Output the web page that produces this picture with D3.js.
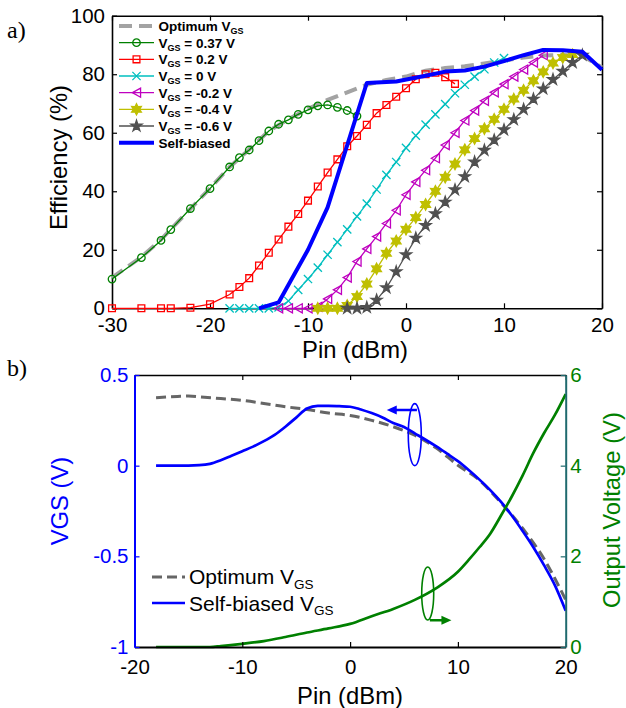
<!DOCTYPE html>
<html><head><meta charset="utf-8">
<script src="https://cdn.jsdelivr.net/npm/d3@7"></script>
<style>body{margin:0;background:#fff;} svg{display:block;}</style>
</head><body>
<script>
// ---------------- DATA (top panel: efficiency vs Pin) ----------------
const xTicksTop = [-30, -20, -10, 0, 10, 20];
const yTicksTop = [0, 20, 40, 60, 80, 100];

const pinOpt = [-30,-27,-25,-24,-22,-20,-18,-16,-14,-12,-10,-8,-6,-4,-2,0,2,4,6,8,10,12,14,16,18,20];
const effOpt = [10.5,17.5,23.5,27,34,41,48.3,54.3,60.6,64.6,68.2,71.2,73.8,76.4,78,79.2,81.2,82.1,82.7,83.7,84.7,85.7,86.4,86.6,86.3,82.3];

const pin037 = [-30,-27,-25,-24,-22,-20,-18,-17,-16,-15,-14,-13,-12,-11,-10,-9,-8,-7,-6,-5];
const eff037 = [10.0,17.3,23.2,26.9,34.1,40.9,48.3,51.5,54.1,57.3,60.6,62.9,64.4,66.3,67.8,69.2,69.5,68.7,67.6,65.7];

const pin02 = [-30,-27,-25,-24,-22,-20,-18,-17,-16,-15,-14,-13,-12,-11,-10,-9,-8,-7,-6,-5,-4,-3,-2,-1,0,1,2,3,4,5];
const eff02 = [0,0,0,0,0.2,1.4,4.7,7.3,10.3,14.6,19.0,23.5,27.9,32.2,36.8,41.6,46.4,50.9,55.4,58.9,62.7,66.7,69.5,72.3,75.2,78.3,80.0,80.5,79.0,76.7];

const pin0 = [-18,-17,-16,-15,-14,-13,-12,-11,-10,-9,-8,-7,-6,-5,-4,-3,-2,-1,0,1,2,3,4,5,6,7,8,9,10];
const eff0 = [0,0,0,0,0,0.3,2.5,6.3,10,13.9,18.3,22.6,27,31.4,35.8,40.6,45.6,50,54.8,59,62.8,66.3,69.8,73.5,76.4,79.2,81.7,84,85.5];

const pinM02 = [-13,-12,-11,-10,-9,-8,-7,-6,-5,-4,-3,-2,-1,0,1,2,3,4,5,6,7,8,9,10,11,12,13,14];
const effM02 = [0,0,0,0,0.5,3.2,6.3,10.5,16,20.3,24.5,29,33.5,38.8,43.2,47.2,51.3,55.8,60,64.2,67.6,70.9,73.8,76.6,79.2,81.6,84,86.5];

const pinM04 = [-9,-8,-7,-6,-5,-4,-3,-2,-1,0,1,2,3,4,5,6,7,8,9,10,11,12,13,14,15,16,17];
const effM04 = [0,0,0,1,4,8.3,13.5,18.8,23,27,31,35.5,40,44.8,49.3,54.2,58,61.4,64.6,68,71.5,74.5,77.8,80.8,83.8,85.7,86.7];

const pinM06 = [-6,-5,-4,-3,-2,-1,0,1,2,3,4,5,6,7,8,9,10,11,12,13,14,15,16,17,18];
const effM06 = [0,0,0.3,2.8,7,12.5,18.3,24,28.3,32.3,36.3,40.5,45,50,54,57.5,61,64.5,68,71.5,75,78.2,81,84,86.5];

const pinSB = [-15,-13,-10,-8,-4,-1,2,4,6,8,10,12,14,16,18,20];
const effSB = [0,2,20,34.5,77,77.5,79.5,80.9,81.3,82.6,84.5,86.5,88.3,88.2,87.7,81.5];

const legendTop = [
  ["Optimum V", "GS", ""],
  ["V", "GS", " = 0.37 V"],
  ["V", "GS", " = 0.2 V"],
  ["V", "GS", " = 0 V"],
  ["V", "GS", " = -0.2 V"],
  ["V", "GS", " = -0.4 V"],
  ["V", "GS", " = -0.6 V"],
  ["Self-biased", "", ""]
];

// ---------------- DATA (bottom panel: VGS & output voltage vs Pin) ----------------
const xTicksBot = [-20, -10, 0, 10, 20];
const yTicksBotL = [-1, -0.5, 0, 0.5];
const yTicksBotR = [0, 2, 4, 6];

const pinB = [-18,-16,-14,-13,-12,-11,-10,-9,-8,-7,-6,-5,-4,-3,-2,-1,0,1,2,3,4,5,6,7,8,9,10,11,12,13,14,15,16,17,18,19,20];
const vgsSelf = [0,0,0.003,0.01,0.03,0.055,0.08,0.105,0.135,0.17,0.215,0.265,0.315,0.33,0.33,0.328,0.325,0.31,0.29,0.266,0.235,0.213,0.178,0.143,0.106,0.066,0.025,-0.024,-0.077,-0.135,-0.2,-0.275,-0.36,-0.45,-0.55,-0.66,-0.8];

const pinBOpt = [-18,-16,-15,-14,-12,-10,-8,-6,-4,-2,0,2,4,6,8,10,12,14,16,18,20];
const vgsOpt = [0.375,0.382,0.384,0.38,0.37,0.36,0.343,0.325,0.31,0.29,0.277,0.25,0.215,0.168,0.097,0.002,-0.08,-0.205,-0.345,-0.515,-0.74];

const pinV = [-18,-15,-13,-12,-10,-8,-6,-4,-2,0,2,4,6,8,10,11,12,13,14,15,16,17,18,19,20];
const vout = [0,0,0,0.02,0.07,0.13,0.22,0.32,0.41,0.51,0.68,0.84,1.04,1.3,1.66,1.92,2.2,2.5,2.9,3.32,3.78,4.28,4.72,5.12,5.58];

const legendBot = [["Optimum V", "GS"], ["Self-biased V", "GS"]];

// ---------------- DRAWING ----------------
const FONT = '"Liberation Sans", Arial, Helvetica, sans-serif';
const SERIF = '"Liberation Serif", "Times New Roman", serif';
const svg = d3.select('body').append('svg').attr('width', 626).attr('height', 708)
  .style('background', '#fff').attr('font-family', FONT);

const symHex = { draw(ctx, size) { const R = Math.sqrt(size) / 1.6, r = R * 0.55;
  for (let i = 0; i < 12; i++) { const a = -Math.PI / 2 + i * Math.PI / 6, q = i % 2 ? r : R;
    const x = q * Math.cos(a), y = q * Math.sin(a); i ? ctx.lineTo(x, y) : ctx.moveTo(x, y); }
  ctx.closePath(); } };
const symXm = { draw(ctx, size) { const r = Math.sqrt(size) / 2;
  ctx.moveTo(-r, -r); ctx.lineTo(r, r); ctx.moveTo(-r, r); ctx.lineTo(r, -r); } };
const symTriL = { draw(ctx, size) { const s = Math.sqrt(size);
  ctx.moveTo(-s * 0.5, 0); ctx.lineTo(s * 0.5, -s * 0.56); ctx.lineTo(s * 0.5, s * 0.56); ctx.closePath(); } };

// ---- top panel ----
const xT = d3.scaleLinear().domain([-30, 20]).range([112, 602]);
const yT = d3.scaleLinear().domain([0, 100]).range([308.3, 15.7]);
const fmt = d => String(d);
const TICKFS = 20.5;

const topG = svg.append('g');
function styleAxis(g, fs) {
  g.attr('font-family', FONT).attr('font-size', fs);
  g.selectAll('.domain').attr('stroke-width', 1.6);
  g.selectAll('.tick line').attr('stroke-width', 1.2);
}
topG.append('g').attr('transform', 'translate(0,308.3)')
  .call(d3.axisBottom(xT).tickValues(xTicksTop).tickFormat(fmt).tickSizeInner(-5).tickSizeOuter(0).tickPadding(9.5))
  .call(g => styleAxis(g, TICKFS));
topG.append('g').attr('transform', 'translate(0,15.7)')
  .call(d3.axisTop(xT).tickValues(xTicksTop).tickFormat('').tickSizeInner(-5).tickSizeOuter(0))
  .call(g => styleAxis(g, TICKFS));
topG.append('g').attr('transform', 'translate(112,0)')
  .call(d3.axisLeft(yT).tickValues(yTicksTop).tickFormat(fmt).tickSizeInner(-5).tickSizeOuter(0).tickPadding(7))
  .call(g => styleAxis(g, TICKFS));
topG.append('g').attr('transform', 'translate(602,0)')
  .call(d3.axisRight(yT).tickValues(yTicksTop).tickFormat('').tickSizeInner(-5).tickSizeOuter(0))
  .call(g => styleAxis(g, TICKFS));

const lineT = (xs, ys) => d3.line().x((d, i) => xT(xs[i])).y((d, i) => yT(ys[i]))(xs);

// optimum dashed
topG.append('path').attr('d', lineT(pinOpt, effOpt)).attr('fill', 'none')
  .attr('stroke', '#a3a3a3').attr('stroke-width', 4).attr('stroke-dasharray', '13,7');

const seriesTop = [
  { x: pin037, y: eff037, color: '#008000', sym: d3.symbolCircle, size: 44, fill: false },
  { x: pin02, y: eff02, color: '#ff0000', sym: d3.symbolSquare, size: 46, fill: false },
  { x: pin0, y: eff0, color: '#00bfbf', sym: symXm, size: 68, fill: false },
  { x: pinM02, y: effM02, color: '#bf00bf', sym: symTriL, size: 66, fill: false },
  { x: pinM04, y: effM04, color: '#bfbf00', sym: symHex, size: 80, fill: true },
  { x: pinM06, y: effM06, color: '#505050', sym: d3.symbolStar, size: 38, fill: true }
];
function marker(g, s, x, y) {
  g.append('path').attr('d', d3.symbol().type(s.sym).size(s.size)())
    .attr('transform', `translate(${x},${y})`)
    .attr('fill', s.fill ? s.color : 'none').attr('stroke', s.color).attr('stroke-width', 1.3);
}
seriesTop.forEach(s => {
  topG.append('path').attr('d', lineT(s.x, s.y)).attr('fill', 'none')
    .attr('stroke', s.color).attr('stroke-width', 1.3);
  const mg = topG.append('g');
  s.x.forEach((xv, i) => marker(mg, s, xT(xv), yT(s.y[i])));
});
topG.append('path').attr('d', lineT(pinSB, effSB)).attr('fill', 'none')
  .attr('stroke', '#0000ff').attr('stroke-width', 4).attr('stroke-linejoin', 'round');

// top legend
const leg = topG.append('g');
legendTop.forEach((lab, i) => {
  const y = 26 + i * 16.67;
  if (i === 0) {
    leg.append('line').attr('x1', 119).attr('x2', 154).attr('y1', y).attr('y2', y)
      .attr('stroke', '#a3a3a3').attr('stroke-width', 4).attr('stroke-dasharray', '13,7');
  } else if (i === 7) {
    leg.append('line').attr('x1', 119).attr('x2', 154).attr('y1', y).attr('y2', y)
      .attr('stroke', '#0000ff').attr('stroke-width', 4);
  } else {
    const s = seriesTop[i - 1];
    leg.append('line').attr('x1', 119).attr('x2', 154).attr('y1', y).attr('y2', y)
      .attr('stroke', s.color).attr('stroke-width', 1.3);
    marker(leg, s, 136.5, y);
  }
  const t = leg.append('text').attr('x', 158.5).attr('y', y + 5).attr('font-size', 13.5).attr('font-weight', 'bold');
  t.append('tspan').text(lab[0]);
  if (lab[1]) t.append('tspan').attr('font-size', 9).attr('dy', 3).text(lab[1]);
  if (lab[2]) t.append('tspan').attr('dy', -3).text(lab[2]);
});

topG.append('text').attr('x', 355).attr('y', 358).attr('text-anchor', 'middle')
  .attr('font-size', 23.8).text('Pin (dBm)');
topG.append('text').attr('transform', 'translate(67,157.5) rotate(-90)').attr('text-anchor', 'middle')
  .attr('font-size', 23.8).text('Efficiency (%)');
svg.append('text').attr('x', 7).attr('y', 38).attr('font-family', SERIF).attr('font-size', 24).text('a)');
svg.append('text').attr('x', 7).attr('y', 376).attr('font-family', SERIF).attr('font-size', 24).text('b)');

// ---- bottom panel ----
const xB = d3.scaleLinear().domain([-20, 20]).range([134.5, 565.7]);
const yBL = d3.scaleLinear().domain([-1, 0.5]).range([647, 375]);
const yBR = d3.scaleLinear().domain([0, 6]).range([647, 375]);
const botG = svg.append('g');

const lineB = (xs, ys, ysc) => d3.line().curve(d3.curveMonotoneX)
  .x((d, i) => xB(xs[i])).y((d, i) => ysc(ys[i]))(xs);

botG.append('path').attr('d', lineB(pinBOpt, vgsOpt, yBL)).attr('fill', 'none')
  .attr('stroke', '#666666').attr('stroke-width', 3).attr('stroke-dasharray', '10,5');
botG.append('path').attr('d', lineB(pinB, vgsSelf, yBL)).attr('fill', 'none')
  .attr('stroke', '#0000ff').attr('stroke-width', 2.7);
botG.append('path').attr('d', lineB(pinV, vout, yBR)).attr('fill', 'none')
  .attr('stroke', '#008000').attr('stroke-width', 2.7);

botG.append('g').attr('transform', 'translate(0,647)')
  .call(d3.axisBottom(xB).tickValues(xTicksBot).tickFormat(fmt).tickSizeInner(-5).tickSizeOuter(0).tickPadding(12))
  .call(g => { styleAxis(g, TICKFS); g.selectAll('.domain').attr('stroke-width', 2); });
botG.append('g').attr('transform', 'translate(0,375)')
  .call(d3.axisTop(xB).tickValues(xTicksBot).tickFormat('').tickSizeInner(-5).tickSizeOuter(0))
  .call(g => styleAxis(g, TICKFS));
botG.append('g').attr('transform', 'translate(134.5,0)').attr('color', '#0000ff')
  .call(d3.axisLeft(yBL).tickValues(yTicksBotL).tickFormat(fmt).tickSizeInner(-5).tickSizeOuter(0).tickPadding(6))
  .call(g => { styleAxis(g, TICKFS); g.selectAll('.domain').attr('stroke-width', 2); });
botG.append('g').attr('transform', 'translate(565.7,0)').attr('color', '#1f6a6e')
  .call(d3.axisRight(yBR).tickValues(yTicksBotR).tickFormat(fmt).tickSizeInner(-5).tickSizeOuter(0).tickPadding(4.5))
  .call(g => { styleAxis(g, TICKFS); g.selectAll('.domain').attr('stroke-width', 2); g.selectAll('text').attr('fill', '#008000'); });

// bottom legend
const legB = botG.append('g');
legB.append('line').attr('x1', 152).attr('x2', 185).attr('y1', 577).attr('y2', 577)
  .attr('stroke', '#666666').attr('stroke-width', 3).attr('stroke-dasharray', '10,5');
legB.append('line').attr('x1', 152).attr('x2', 185).attr('y1', 603).attr('y2', 603)
  .attr('stroke', '#0000ff').attr('stroke-width', 2.7);
legendBot.forEach((lab, i) => {
  const t = legB.append('text').attr('x', 189).attr('y', 584 + i * 26.5).attr('font-size', 21);
  t.append('tspan').text(lab[0]);
  t.append('tspan').attr('font-size', 13.5).attr('dy', 4.5).text(lab[1]);
});

// annotations (ellipses + arrows, placed in data units)
const ann = botG.append('g');
function arrow(g, x1, x2, y, color) {
  const dir = Math.sign(x2 - x1);
  g.append('line').attr('x1', x1).attr('x2', x2 - dir * 8).attr('y1', y).attr('y2', y)
    .attr('stroke', color).attr('stroke-width', 2.5);
  g.append('path').attr('d', `M${x2},${y} L${x2 - dir * 10},${y - 4.5} L${x2 - dir * 10},${y + 4.5} Z`).attr('fill', color);
}
ann.append('ellipse').attr('cx', xB(6.0)).attr('cy', yBL(0.171)).attr('rx', 6.5).attr('ry', 31)
  .attr('fill', 'none').attr('stroke', '#0000ff').attr('stroke-width', 1.6);
arrow(ann, xB(6.2), xB(3.4), yBL(0.307), '#0000ff');
ann.append('ellipse').attr('cx', xB(7.2)).attr('cy', yBR(1.18)).attr('rx', 6).attr('ry', 26.5)
  .attr('fill', 'none').attr('stroke', '#008000').attr('stroke-width', 1.6);
arrow(ann, xB(7.4), xB(9.4), yBR(0.59), '#008000');

// axis titles
botG.append('text').attr('x', 350).attr('y', 704).attr('text-anchor', 'middle')
  .attr('font-size', 23.8).text('Pin (dBm)');
botG.append('text').attr('transform', 'translate(68,501) rotate(-90)').attr('text-anchor', 'middle')
  .attr('font-size', 23.8).attr('fill', '#0000ff').text('VGS (V)');
botG.append('text').attr('transform', 'translate(620,510) rotate(-90)').attr('text-anchor', 'middle')
  .attr('font-size', 23.8).attr('fill', '#008000').text('Output Voltage (V)');
</script>
</body></html>
